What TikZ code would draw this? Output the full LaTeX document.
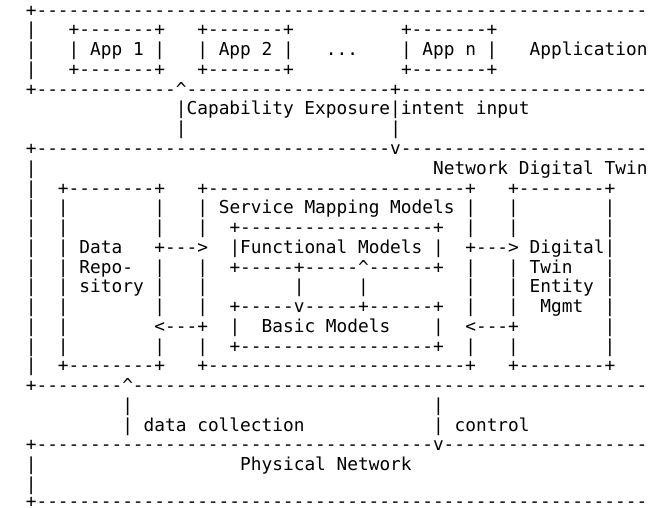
\documentclass[tikz,border=0pt]{standalone}
\usepackage{fontspec}
\setmonofont{DejaVu Sans Mono}
\usetikzlibrary{positioning}
\newcommand{\dashes}[1]{\foreach \k in {1,...,#1}{-}}

\begin{document}
\begin{tikzpicture}[
    x=10.72pt, y=-19.76pt,
    art/.style={font=\ttfamily\fontsize{17.8}{19.76}\selectfont,
                inner sep=0pt, anchor=base west}
]
    \useasboundingbox (-2.392,-0.820) rectangle (58.34,24.89);

    % Layer borders
    \node[art] (ruleA) at (0,0) {+\dashes{57}};
    \node[art] (ruleB) at (0,4) {+\dashes{13}\textasciicircum\dashes{19}+\dashes{23}};
    \node[art] (ruleC) at (0,7) {+\dashes{33}v\dashes{23}};
    \node[art] (ruleD) at (0,19) {+\dashes{8}\textasciicircum\dashes{48}};
    \node[art] (ruleE) at (0,22) {+\dashes{37}v\dashes{19}};
    \node[art] (ruleF) at (0,24.87) {+\dashes{57}};
    \foreach \r in {1,2,3,8,9,...,18,23,24}
        \node[art] (edge\r) at (0,\r) {|};

    % Application layer
    \foreach \c/\name/\txt in {4/appone/App 1, 16/apptwo/App 2, 35/appn/App n} {
        \node[art] (\name-t) at (\c,1) {+\dashes{7}+};
        \node[art] (\name) at (\c,2) {| \txt{} |};
        \node[art] (\name-b) at (\c,3) {+\dashes{7}+};
    }
    \node[art] (dots) at (28,2) {...};
    \node[art] (applayer) at (47,2) {Application};

    % Northbound interface
    \node[art] (capexp) at (14,5) {|Capability Exposure|intent input};
    \node[art] (capbarl) at (14,6) {|};
    \node[art] (capbarr) at (34,6) {|};

    % Network Digital Twin layer
    \node[art] (ndt) at (38,8) {Network Digital Twin};
    \foreach \r/\s in {9/t, 18/b} {
        \node[art] (repo-\s) at (3,\r) {+\dashes{8}+};
        \node[art] (smm-\s) at (16,\r) {+\dashes{24}+};
        \node[art] (dte-\s) at (45,\r) {+\dashes{8}+};
    }
    \foreach \r in {10,...,17} {
        \node[art] (repo-l\r) at (3,\r) {|};
        \node[art] (dte-r\r) at (54,\r) {|};
    }
    \foreach \r in {10,11,13,14,15,17} {
        \node[art] (repo-r\r) at (12,\r) {|};
        \node[art] (smm-l\r) at (16,\r) {|};
        \node[art] (smm-r\r) at (41,\r) {|};
        \node[art] (dte-l\r) at (45,\r) {|};
    }
    \node[art] (repo1) at (5,12) {Data};
    \node[art] (repo2) at (5,13) {Repo-};
    \node[art] (repo3) at (5,14) {sitory};
    \node[art] (dte1) at (47,12) {Digital};
    \node[art] (dte2) at (47,13) {Twin};
    \node[art] (dte3) at (47,14) {Entity};
    \node[art] (dte4) at (48,15) {Mgmt};
    \node[art] (smm) at (18,10) {Service Mapping Models};

    % Functional and basic models
    \node[art] (fm-t) at (19,11) {+\dashes{18}+};
    \node[art] (fm) at (19,12) {|Functional Models |};
    \node[art] (fm-b) at (19,13) {+\dashes{5}+\dashes{5}\textasciicircum\dashes{6}+};
    \node[art] (fm2bm) at (25,14) {|};
    \node[art] (bm2fm) at (31,14) {|};
    \node[art] (bm-t) at (19,15) {+\dashes{5}v\dashes{5}+\dashes{6}+};
    \node[art] (bm-l) at (19,16) {|};
    \node[art] (bm) at (22,16) {Basic Models};
    \node[art] (bm-r) at (38,16) {|};
    \node[art] (bm-b) at (19,17) {+\dashes{18}+};

    % Exchanges between the twin subsystems
    \node[art] (repo2smm) at (12,12) {+\dashes{3}>};
    \node[art] (smm2repo) at (12,16) {<\dashes{3}+};
    \node[art] (smm2dte) at (41,12) {+\dashes{3}>};
    \node[art] (dte2smm) at (41,16) {<\dashes{3}+};

    % Southbound interface
    \node[art] (dcbar) at (9,20) {|};
    \node[art] (ctlbar) at (38,20) {|};
    \node[art] (datacoll) at (9,21) {| data collection};
    \node[art] (control) at (38,21) {| control};

    % Physical network layer
    \node[art] (phys) at (20,23) {Physical Network};
\end{tikzpicture}
\end{document}
